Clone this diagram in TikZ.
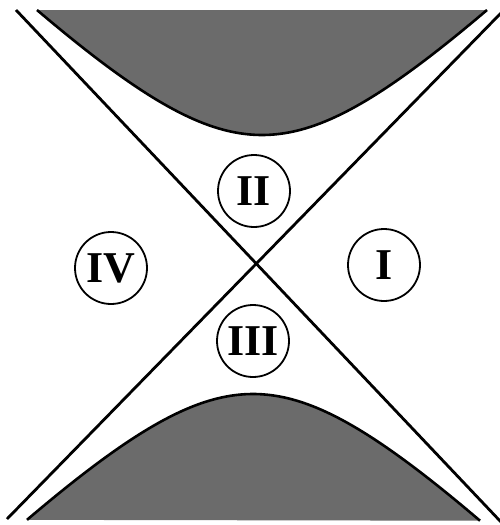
\documentclass[tikz,border=0pt]{standalone}
\usepackage{fontspec}
\setmainfont{Liberation Serif}
\begin{document}
\begin{tikzpicture}[x={(1pt,0)},y={(0,-1pt)},
  shade/.style={fill=black!58},
  edge/.style={line width=2.8pt},
  rim/.style={line width=2.6pt},
  region/.style={circle,draw,line width=1.8pt,minimum size=72pt,inner sep=0pt,
    font=\fontsize{44}{44}\selectfont\bfseries}]
\useasboundingbox (0,0) rectangle (499,525);
% shaded hyperbolic regions
\fill[shade] plot[domain=-225:225,samples=90] ({262+\x},{135-10*(sqrt(196+(\x/10)^2)-14)}) -- cycle;
\draw[rim] plot[domain=-225:225,samples=90] ({262+\x},{135-10*(sqrt(196+(\x/10)^2)-14)});
\fill[shade] plot[domain=-226:227,samples=90] ({253+\x},{394+10*(sqrt(196+(\x/10)^2)-14)}) -- cycle;
\draw[rim] plot[domain=-226:227,samples=90] ({253+\x},{394+10*(sqrt(196+(\x/10)^2)-14)});
% diagonals
\coordinate (tl) at (16,10);
\coordinate (br) at (501,522);
\coordinate (bl) at (7,519);
\coordinate (tr) at (501,13);
\draw[edge] (tl) -- (br);
\draw[edge] (bl) -- (tr);
% region labels
\node[region] (r1) at (384,265) {I};
\node[region] (r2) at (254,191) {II};
\node[region] (r3) at (253,341) {III};
\node[region] (r4) at (111,268) {IV};
\end{tikzpicture}
\end{document}
